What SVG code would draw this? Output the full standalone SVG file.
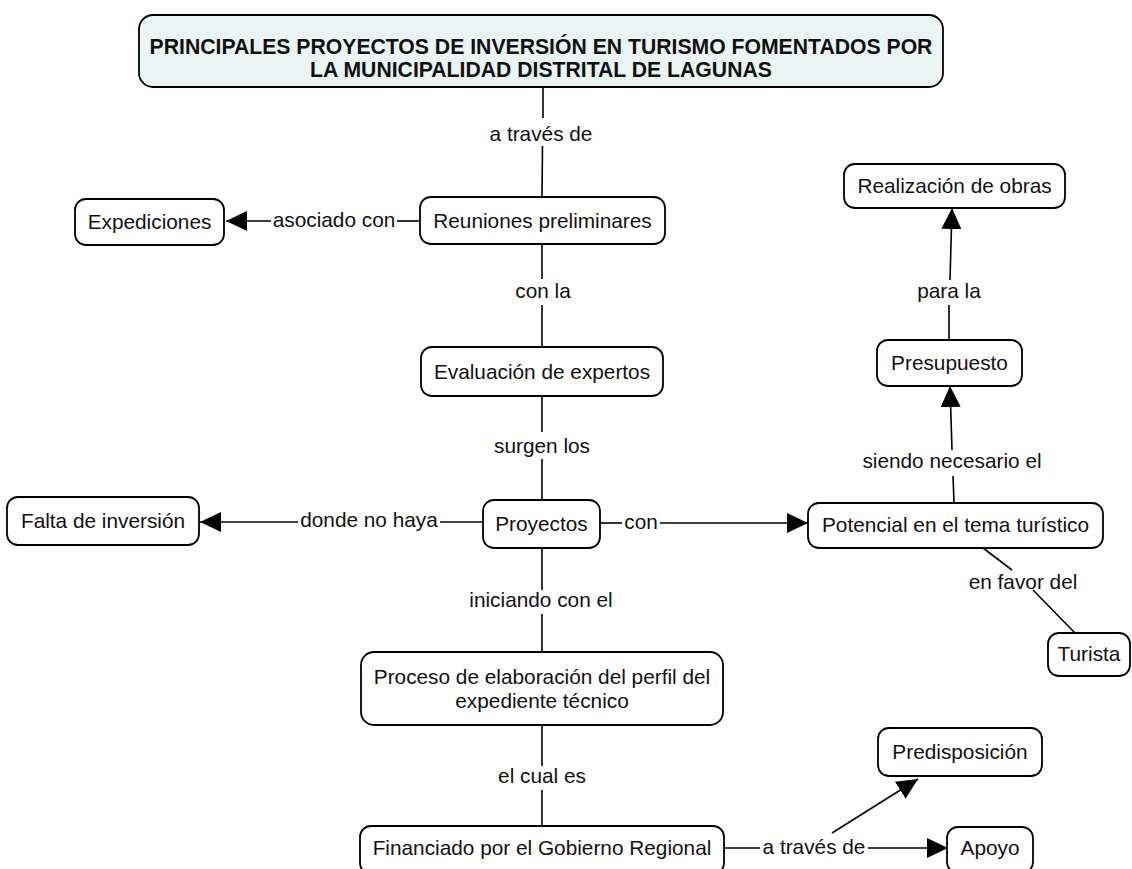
<svg xmlns="http://www.w3.org/2000/svg" width="1132" height="869" viewBox="0 0 1132 869">
<defs>
<style>
.node rect{fill:#fff;stroke:#000;stroke-width:1.8}
.title rect{fill:#eaf4f3;stroke:#000;stroke-width:1.8}
text{font-family:"Liberation Sans",Arial,sans-serif;font-size:20.8px;fill:#111;text-anchor:middle}
.title text{font-weight:bold;font-size:21.2px}
.conn line{stroke:#000;stroke-width:1.6;fill:none}
</style>
<marker id="ah" markerUnits="userSpaceOnUse" markerWidth="22" markerHeight="20" refX="21" refY="10" orient="auto">
<path d="M0,0 L21,10 L0,20 Z" fill="#000"/>
</marker>
</defs>
<rect width="1132" height="869" fill="#fff"/>
<g id="connectors" class="conn">
<line x1="543" y1="88" x2="543" y2="118"/>
<line x1="542.5" y1="146" x2="542" y2="197"/>
<text x="541" y="141">a través de</text>
<line x1="420" y1="221" x2="397" y2="221"/>
<line x1="271" y1="221" x2="226" y2="221" marker-end="url(#ah)"/>
<text x="334" y="227">asociado con</text>
<line x1="542" y1="244" x2="542" y2="279"/>
<line x1="542" y1="305" x2="542" y2="347"/>
<text x="543" y="298">con la</text>
<line x1="542" y1="396" x2="542" y2="432"/>
<line x1="542" y1="459" x2="542" y2="500"/>
<text x="542" y="453">surgen los</text>
<line x1="483" y1="522" x2="440" y2="522"/>
<line x1="298" y1="522" x2="200" y2="522" marker-end="url(#ah)"/>
<text x="369" y="527">donde no haya</text>
<line x1="600" y1="523" x2="622" y2="523"/>
<line x1="660" y1="523" x2="808" y2="523" marker-end="url(#ah)"/>
<text x="641" y="529">con</text>
<line x1="954" y1="502" x2="953" y2="476"/>
<line x1="952" y1="450" x2="950" y2="386" marker-end="url(#ah)"/>
<text x="952" y="468">siendo necesario el</text>
<line x1="949" y1="340" x2="949" y2="305"/>
<line x1="950" y1="280" x2="952" y2="208" marker-end="url(#ah)"/>
<text x="949" y="298">para la</text>
<line x1="983" y1="548" x2="1012" y2="570"/>
<line x1="1033" y1="590" x2="1075" y2="633"/>
<text x="1023" y="589">en favor del</text>
<line x1="542" y1="548" x2="542" y2="590"/>
<line x1="542" y1="614" x2="542" y2="652"/>
<text x="541" y="607">iniciando con el</text>
<line x1="542" y1="725" x2="542" y2="766"/>
<line x1="542" y1="790" x2="542" y2="826"/>
<text x="542" y="783">el cual es</text>
<line x1="724" y1="848" x2="760" y2="848"/>
<line x1="868" y1="848" x2="948" y2="848" marker-end="url(#ah)"/>
<line x1="832" y1="833" x2="918" y2="779" marker-end="url(#ah)"/>
<text x="814" y="854">a través de</text>
</g>
<g id="n-title" class="title">
<rect x="139" y="15" width="804" height="72" rx="14"/>
<text x="541" y="54">PRINCIPALES PROYECTOS DE INVERSIÓN EN TURISMO FOMENTADOS POR</text>
<text x="541" y="77">LA MUNICIPALIDAD DISTRITAL DE LAGUNAS</text>
</g>
<g id="n-expediciones" class="node">
<rect x="75" y="199" width="149" height="46" rx="11"/>
<text x="149.5" y="229">Expediciones</text>
</g>
<g id="n-reuniones" class="node">
<rect x="420" y="197" width="245" height="47" rx="11"/>
<text x="542.5" y="228">Reuniones preliminares</text>
</g>
<g id="n-evaluacion" class="node">
<rect x="421" y="347" width="242" height="49" rx="11"/>
<text x="542" y="379">Evaluación de expertos</text>
</g>
<g id="n-proyectos" class="node">
<rect x="483" y="500" width="117" height="48" rx="11"/>
<text x="541.5" y="531">Proyectos</text>
</g>
<g id="n-falta" class="node">
<rect x="7" y="497" width="192" height="48" rx="11"/>
<text x="103" y="528">Falta de inversión</text>
</g>
<g id="n-potencial" class="node">
<rect x="808" y="503" width="295" height="45" rx="11"/>
<text x="955.5" y="532">Potencial en el tema turístico</text>
</g>
<g id="n-presupuesto" class="node">
<rect x="877" y="340" width="145" height="46" rx="11"/>
<text x="949.5" y="370">Presupuesto</text>
</g>
<g id="n-realizacion" class="node">
<rect x="844" y="164" width="221" height="44" rx="11"/>
<text x="954.5" y="193">Realización de obras</text>
</g>
<g id="n-turista" class="node">
<rect x="1048" y="633" width="82" height="43" rx="11"/>
<text x="1089" y="661">Turista</text>
</g>
<g id="n-proceso" class="node">
<rect x="361" y="652" width="362" height="73" rx="13"/>
<text x="542" y="684">Proceso de elaboración del perfil del</text>
<text x="542" y="708">expediente técnico</text>
</g>
<g id="n-financiado" class="node">
<rect x="360" y="826" width="364" height="48" rx="11"/>
<text x="542" y="855">Financiado por el Gobierno Regional</text>
</g>
<g id="n-predisposicion" class="node">
<rect x="878" y="728" width="164" height="48" rx="11"/>
<text x="960" y="759">Predisposición</text>
</g>
<g id="n-apoyo" class="node">
<rect x="947" y="827" width="86" height="46" rx="11"/>
<text x="990" y="855">Apoyo</text>
</g>
</svg>
